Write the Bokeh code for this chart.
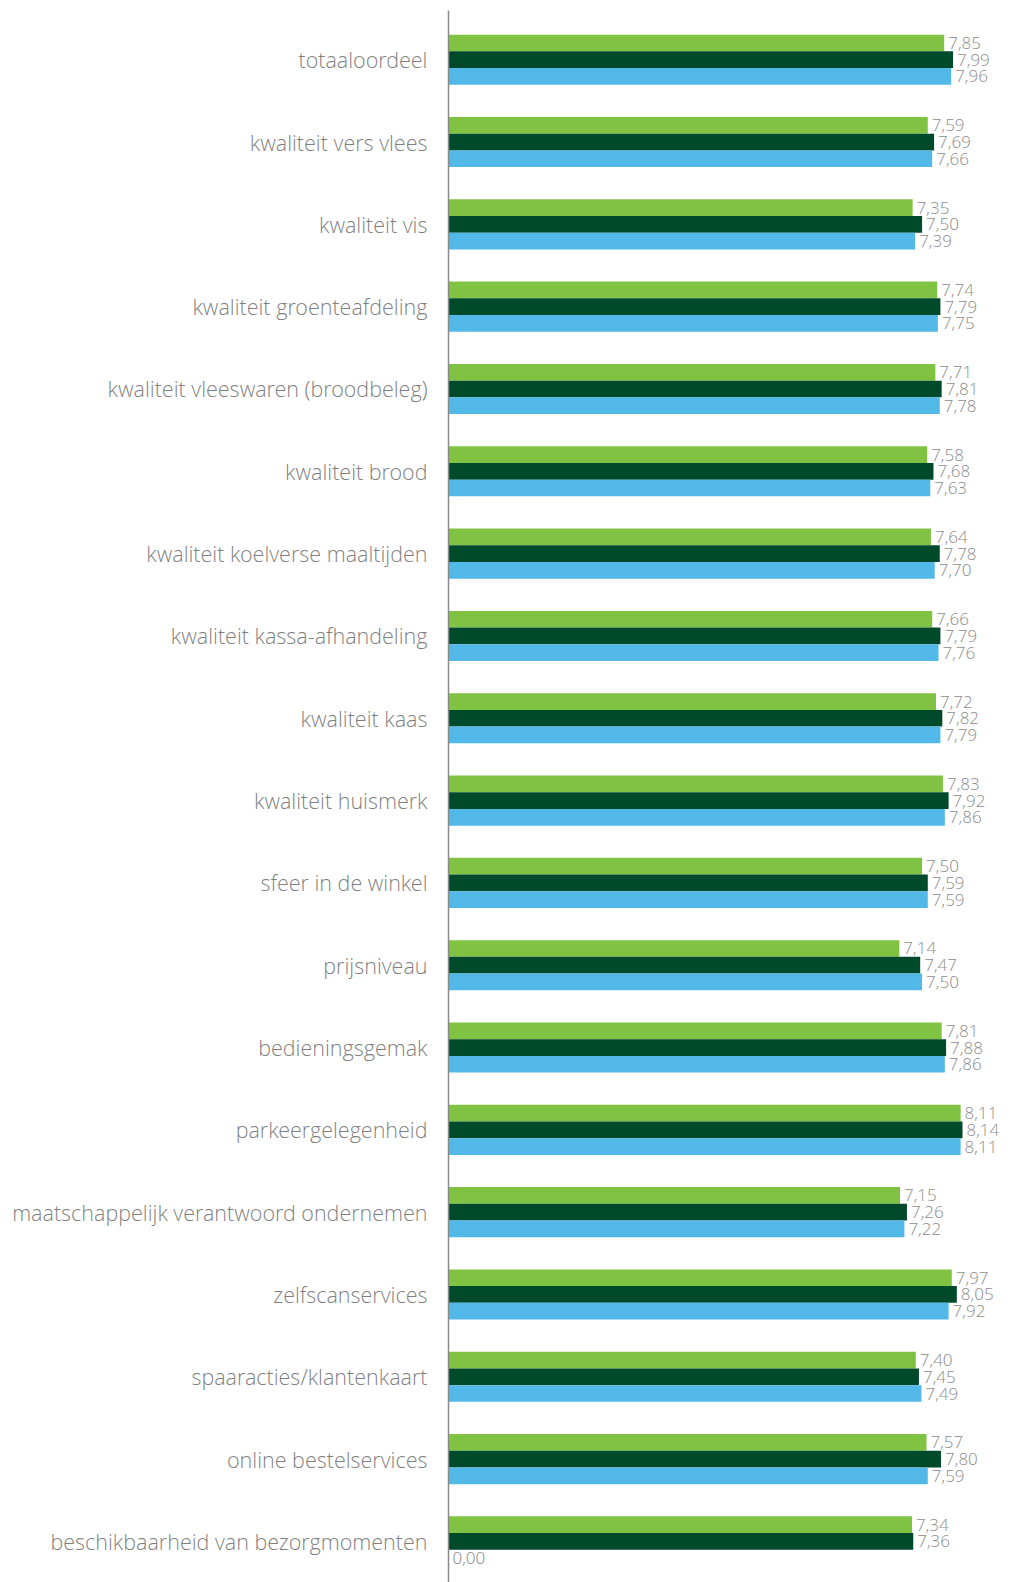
from bokeh.plotting import figure
from bokeh.models import ColumnDataSource, Range1d, FixedTicker
from bokeh.core.properties import value
from bokeh.embed import file_html
from bokeh.resources import INLINE

categories = [
    "totaaloordeel",
    "kwaliteit vers vlees",
    "kwaliteit vis",
    "kwaliteit groenteafdeling",
    "kwaliteit vleeswaren (broodbeleg)",
    "kwaliteit brood",
    "kwaliteit koelverse maaltijden",
    "kwaliteit kassa-afhandeling",
    "kwaliteit kaas",
    "kwaliteit huismerk",
    "sfeer in de winkel",
    "prijsniveau",
    "bedieningsgemak",
    "parkeergelegenheid",
    "maatschappelijk verantwoord ondernemen",
    "zelfscanservices",
    "spaaracties/klantenkaart",
    "online bestelservices",
    "beschikbaarheid van bezorgmomenten",
]
series_a = [7.85, 7.59, 7.35, 7.74, 7.71, 7.58, 7.64, 7.66, 7.72, 7.83,
            7.50, 7.14, 7.81, 8.11, 7.15, 7.97, 7.40, 7.57, 7.34]
series_b = [7.99, 7.69, 7.50, 7.79, 7.81, 7.68, 7.78, 7.79, 7.82, 7.92,
            7.59, 7.47, 7.88, 8.14, 7.26, 8.05, 7.45, 7.80, 7.36]
series_c = [7.96, 7.66, 7.39, 7.75, 7.78, 7.63, 7.70, 7.76, 7.79, 7.86,
            7.59, 7.50, 7.86, 8.11, 7.22, 7.92, 7.49, 7.59, 0.00]

colors = ["#80C242", "#004A2C", "#52B8E8"]
BAR_H = 0.203
offsets = [-BAR_H, 0.0, BAR_H]
FONT = '"Open Sans Light", "Open Sans"'

n = len(categories)
p = figure(width=1022, height=1582, output_backend="svg", toolbar_location=None,
           x_axis_location=None, min_border_left=448, min_border_right=0,
           min_border_top=10, min_border_bottom=0)
p.x_range = Range1d(0, 9.09)
p.y_range = Range1d(18.499, -0.598)

for vals, col, off in zip([series_a, series_b, series_c], colors, offsets):
    src = ColumnDataSource(dict(
        y=[i + off for i in range(n)],
        v=vals,
        lbl=[f"{v:.2f}".replace(".", ",") for v in vals],
    ))
    p.hbar(y="y", left=0, right="v", height=BAR_H, source=src,
           fill_color=col, line_color=None)
    p.text(x="v", y="y", text="lbl", source=src, x_offset=4,
           text_baseline="middle", text_align="left",
           text_font=value(FONT), text_font_size="17px",
           text_color="#8d8d8d")

ax = p.yaxis[0]
ax.ticker = FixedTicker(ticks=list(range(n)))
ax.major_label_overrides = {i: c for i, c in enumerate(categories)}
ax.major_tick_line_color = None
ax.minor_tick_line_color = None
ax.axis_line_color = "#8a8a8a"
ax.axis_line_width = 1.5
ax.major_label_standoff = 15
ax.major_label_text_font = FONT
ax.major_label_text_font_size = "21.5px"
ax.major_label_text_color = "#7f7f7f"

p.xgrid.visible = False
p.ygrid.visible = False
p.outline_line_color = None
p.background_fill_color = "white"
p.border_fill_color = "white"

open("out.html", "w").write(file_html(p, INLINE))
